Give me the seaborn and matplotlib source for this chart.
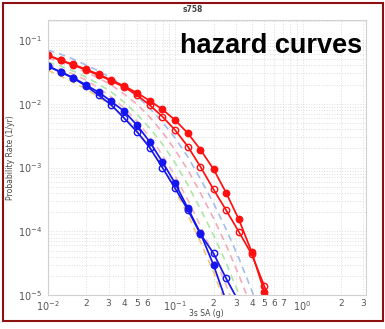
import matplotlib
matplotlib.use("Agg")
import matplotlib.pyplot as plt
from matplotlib.patches import Rectangle
import seaborn as sns
import pandas as pd

# ---- data ----
sa = [0.01, 0.0126, 0.0158, 0.02, 0.0251, 0.0316, 0.0398, 0.0501, 0.0631, 0.0794,
      0.1, 0.126, 0.158, 0.2, 0.251, 0.316, 0.398, 0.501, 0.631]

red_filled = [0.0582, 0.0485, 0.0416, 0.0347, 0.0290, 0.0236, 0.0190, 0.0149, 0.0112, 0.00818,
              0.00556, 0.00344, 0.00191, 0.000946, 0.000403, 0.000154, 4.79e-5, 1.13e-5, 2.6e-6]
red_open = [0.0575, 0.0479, 0.0407, 0.0339, 0.0282, 0.0229, 0.0183, 0.01374, 0.00955, 0.00631,
            0.00387, 0.00213, 0.00103, 0.000455, 0.000215, 9.84e-5, 4.40e-5, 1.38e-5, 3.9e-6]
blue_filled = [0.0391, 0.0318, 0.0258, 0.0197, 0.0152, 0.0109, 0.00762, 0.00465, 0.00254, 0.00123,
               0.000565, 0.000229, 9.29e-5, 2.96e-5, 8.1e-6]
blue_open = [0.0389, 0.0315, 0.0254, 0.0190, 0.0137, 0.00955, 0.00597, 0.00365, 0.00206, 0.00100,
             0.000472, 0.000215, 9.06e-5, 4.51e-5, 1.83e-5, 7.8e-6]

dash_lightblue = [0.0697, 0.0603, 0.0504, 0.0406, 0.0327, 0.0254, 0.0190, 0.0132, 0.00857, 0.00518,
                  0.00290, 0.00146, 0.000661, 0.000277, 0.000108, 3.8e-5, 1.2e-5, 3.4e-6]
dash_pink = [0.0522, 0.0452, 0.0377, 0.0315, 0.0254, 0.0197, 0.0142, 0.0099, 0.0062, 0.0036,
             0.00188, 0.000914, 0.000398, 0.000161, 6.1e-5, 2.06e-5, 6.3e-6]
dash_green = [0.0452, 0.0391, 0.0327, 0.0263, 0.0204, 0.0153, 0.0106, 0.0069, 0.00417, 0.00234,
              0.00118, 0.00053, 0.000223, 8.7e-5, 3.2e-5, 1.04e-5, 3.0e-6]
dash_pink2 = [0.0421, 0.0351, 0.0293, 0.0236, 0.0177, 0.0128, 0.00857, 0.00536, 0.00301, 0.00157,
              0.000736, 0.000309, 0.000121, 4.2e-5, 1.44e-5, 4.4e-6]
dash_orange = [0.0338, 0.0272, 0.0219, 0.0170, 0.0128, 0.00923, 0.0062, 0.00387, 0.0021, 0.00102,
               0.000444, 0.00018, 6.8e-5, 2.3e-5, 7.0e-6]

x_major = [0.01, 0.1, 1.0]
x_major_labels = ["$10^{-2}$", "$10^{-1}$", "$10^{0}$"]
x_minor = [0.02, 0.03, 0.04, 0.05, 0.06, 0.07, 0.08, 0.09,
           0.2, 0.3, 0.4, 0.5, 0.6, 0.7, 0.8, 0.9, 2.0, 3.0]
x_minor_labels = ["2", "3", "4", "5", "6", "", "", "",
                  "2", "3", "4", "5", "6", "7", "", "", "2", "3"]
y_major = [1e-5, 1e-4, 1e-3, 1e-2, 1e-1]
y_major_labels = ["$10^{-5}$", "$10^{-4}$", "$10^{-3}$", "$10^{-2}$", "$10^{-1}$"]

sns.set_style("white")
plt.rcParams["font.family"] = ["DejaVu Sans"]

fig = plt.figure(figsize=(3.85, 3.29), dpi=100)
ax = fig.add_axes([0.124, 0.103, 0.826, 0.836])
ax.set_xscale("log")
ax.set_yscale("log")

# dashed branch curves
dashed = [(dash_lightblue, "#a4bcee"), (dash_pink, "#f4aabb"), (dash_green, "#aee6a8"),
          (dash_pink2, "#f2b6c4"), (dash_orange, "#f3c870")]
for vals, col in dashed:
    df = pd.DataFrame({"x": sa[:len(vals)], "y": vals})
    sns.lineplot(data=df, x="x", y="y", ax=ax, color=col, linewidth=1.2,
                 linestyle=(0, (4, 3)), estimator=None, sort=False)

main = [(red_filled, "#ff1010", True), (red_open, "#ff1010", False),
        (blue_filled, "#1515f0", True), (blue_open, "#1515f0", False)]
for vals, col, filled in main:
    df = pd.DataFrame({"x": sa[:len(vals)], "y": vals})
    sns.lineplot(data=df, x="x", y="y", ax=ax, color=col, linewidth=1.25,
                 marker="o", markersize=4.6,
                 markerfacecolor=(col if filled else "none"),
                 markeredgecolor=col, markeredgewidth=1.0,
                 estimator=None, sort=False)

ax.set_xlim(0.01, 3.13)
ax.set_ylim(1e-5, 0.206)

ax.set_xticks(x_major)
ax.set_xticklabels(x_major_labels)
ax.set_xticks(x_minor, minor=True)
ax.set_xticklabels(x_minor_labels, minor=True)
ax.set_yticks(y_major)
ax.set_yticklabels(y_major_labels)
ax.tick_params(axis="both", which="both", length=0, labelsize=7, colors="#555555", pad=2)
ax.tick_params(axis="y", which="major", pad=4)
ax.tick_params(axis="x", which="both", pad=3)
ax.tick_params(axis="x", which="minor", labelsize=6.5)

ax.grid(True, which="both", color="#dedede", linestyle=":", linewidth=0.7)
for sp in ax.spines.values():
    sp.set_color("#d0d0d0")
    sp.set_linewidth(0.8)

ax.set_xlabel("3s SA (g)", fontsize=5.5, color="#444444", labelpad=-3)
ax.set_ylabel("Probability Rate (1/yr)", fontsize=5.5, color="#444444", labelpad=2)

fig.text(0.5, 1 - 9 / 329, "s758", ha="center", va="center", fontsize=5.5,
         fontweight="bold", color="#444444")
fig.text(362 / 385, 1 - 46 / 329, "hazard curves", ha="right", va="center",
         fontsize=19.5, fontweight="bold", family=["Liberation Sans", "DejaVu Sans"],
         color="black")

fig.patches.append(Rectangle((2.5 / 385, 8 / 329), 380.5 / 385, 318.5 / 329,
                             transform=fig.transFigure, fill=False,
                             edgecolor="#8e1111", linewidth=1.5))

fig.savefig("out.png", dpi=100)
